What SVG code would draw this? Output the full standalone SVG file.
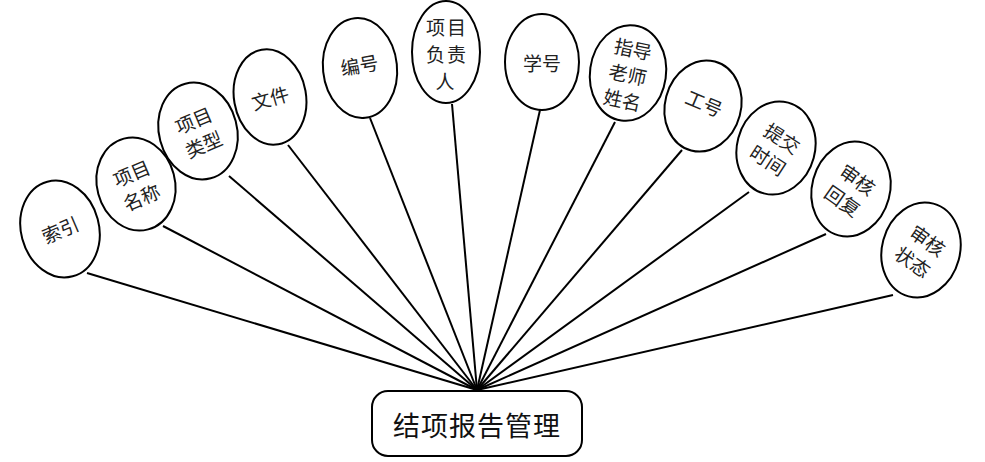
<svg xmlns="http://www.w3.org/2000/svg" width="985" height="462" viewBox="0 0 985 462">
<style>
.e{fill:#fff;stroke:#000;stroke-width:2}
.t{font-family:"Noto Sans CJK SC","Noto Sans CJK JP",sans-serif;font-size:19px;fill:#222;text-anchor:middle;dominant-baseline:central}
.c line{stroke:#000;stroke-width:2}
.hub{fill:#fff;stroke:#000;stroke-width:2}
.ht{font-family:"Noto Sans CJK SC","Noto Sans CJK JP",sans-serif;font-size:27px;fill:#111;text-anchor:middle;dominant-baseline:central;letter-spacing:1px}
</style>
<rect width="985" height="462" fill="#fff"/>
<g class="c" id="connectors">
<line x1="87" y1="273" x2="477" y2="390"/>
<line x1="163" y1="226" x2="477" y2="390"/>
<line x1="229" y1="176" x2="477" y2="390"/>
<line x1="288" y1="145" x2="477" y2="390"/>
<line x1="370" y1="118" x2="477" y2="390"/>
<line x1="452" y1="104" x2="477" y2="390"/>
<line x1="540" y1="110" x2="477" y2="390"/>
<line x1="615" y1="122" x2="477" y2="390"/>
<line x1="682" y1="150" x2="477" y2="390"/>
<line x1="749" y1="192" x2="477" y2="390"/>
<line x1="826" y1="234" x2="477" y2="390"/>
<line x1="893" y1="295" x2="477" y2="390"/>
</g>
<g id="n1" transform="translate(60,229) rotate(-15)"><ellipse class="e" rx="39" ry="49"/><text class="t" transform="rotate(-8)">索引</text></g>
<g id="n2" transform="translate(136,184) rotate(-15)"><ellipse class="e" rx="39" ry="47"/><text class="t" transform="rotate(-8)"><tspan x="0" y="-13">项目</tspan><tspan x="0" y="13">名称</tspan></text></g>
<g id="n3" transform="translate(198,131) rotate(-15)"><ellipse class="e" rx="39" ry="49"/><text class="t" transform="rotate(-8)"><tspan x="0" y="-13">项目</tspan><tspan x="0" y="13">类型</tspan></text></g>
<g id="n4" transform="translate(270,97) rotate(-10)"><ellipse class="e" rx="36" ry="48"/><text class="t" transform="rotate(-6)">文件</text></g>
<g id="n5" transform="translate(360,68) rotate(-6)"><ellipse class="e" rx="37" ry="50"/><text class="t" transform="rotate(-4)" y="-4">编号</text></g>
<g id="n6" transform="translate(446,52)"><ellipse class="e" rx="34" ry="51"/><text class="t" letter-spacing="2"><tspan x="1" y="-26">项目</tspan><tspan x="1" y="1">负责</tspan><tspan x="0" y="28">人</tspan></text></g>
<g id="n7" transform="translate(542,62)"><ellipse class="e" rx="37" ry="48"/><text class="t">学号</text></g>
<g id="n8" transform="translate(628,73) rotate(8)"><ellipse class="e" rx="38" ry="48"/><text class="t" transform="rotate(4)"><tspan x="0" y="-26">指导</tspan><tspan x="0" y="0">老师</tspan><tspan x="0" y="26">姓名</tspan></text></g>
<g id="n9" transform="translate(703,106) rotate(15)"><ellipse class="e" rx="38" ry="46"/><text class="t" transform="rotate(8)" y="-4">工号</text></g>
<g id="n10" transform="translate(776,148) rotate(15)"><ellipse class="e" rx="39" ry="47"/><text class="t" transform="rotate(18)"><tspan x="0" y="-13">提交</tspan><tspan x="0" y="13">时间</tspan></text></g>
<g id="n11" transform="translate(851,189) rotate(15)"><ellipse class="e" rx="39" ry="48"/><text class="t" transform="rotate(20)"><tspan x="0" y="-13">审核</tspan><tspan x="0" y="13">回复</tspan></text></g>
<g id="n12" transform="translate(921,250) rotate(15)"><ellipse class="e" rx="39" ry="48"/><text class="t" transform="rotate(20)"><tspan x="0" y="-13">审核</tspan><tspan x="0" y="13">状态</tspan></text></g>
<g id="hub"><rect class="hub" x="372" y="391" width="210" height="65" rx="16"/><text class="ht" x="477" y="424">结项报告管理</text></g>
</svg>
